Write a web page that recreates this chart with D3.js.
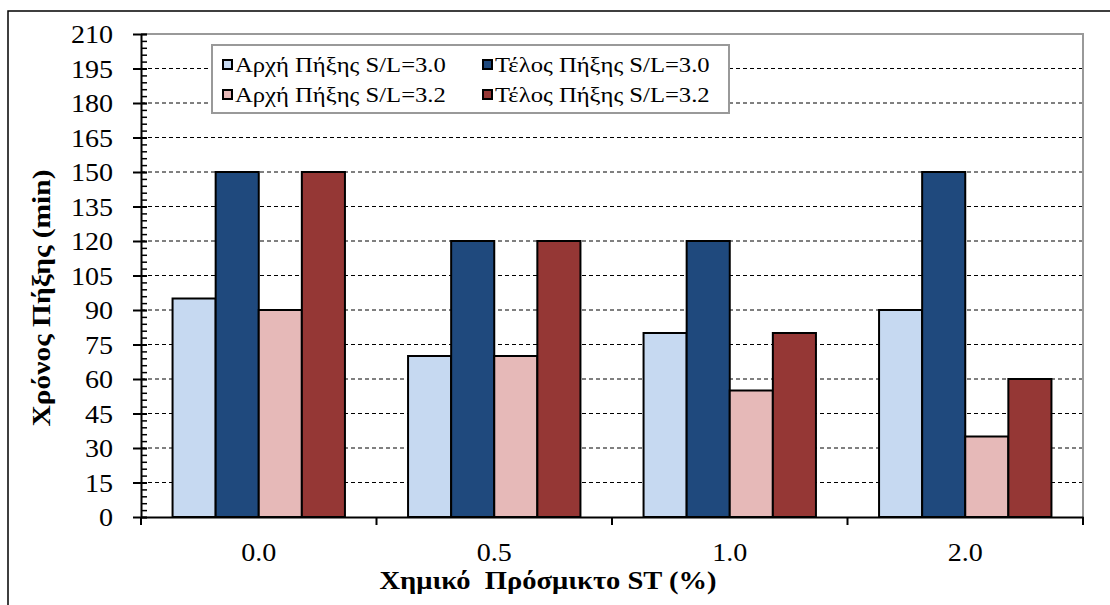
<!DOCTYPE html>
<html>
<head>
<meta charset="utf-8">
<script src="https://cdn.jsdelivr.net/npm/d3@7"></script>
<style>
  body { margin: 0; background: #fff; }
</style>
</head>
<body>
<svg width="1110" height="605"></svg>
<script>
// Data
var categories = ["0.0", "0.5", "1.0", "2.0"];
var seriesNames = ["Αρχή Πήξης S/L=3.0", "Τέλος Πήξης S/L=3.0", "Αρχή Πήξης S/L=3.2", "Τέλος Πήξης S/L=3.2"];
var start30 = [95, 70, 80, 90];
var end30 = [150, 120, 120, 150];
var start32 = [90, 70, 55, 35];
var end32 = [150, 120, 80, 60];
var yTicks = d3.range(0, 211, 15);
var colors = ["#C6D9F1", "#1F497D", "#E6B9B8", "#953735"];

var seriesValues = [start30, end30, start32, end32];

var serif = "'Liberation Serif'";
var svg = d3.select("svg"),
  pLeft = 141, pRight = 1083, pTop = 34, pBottom = 517;

// widen text a bit, like the original rendering
function stretch(sel, k) {
  sel.each(function() {
    var w = this.getComputedTextLength();
    d3.select(this).attr("textLength", w * k).attr("lengthAdjust", "spacingAndGlyphs");
  });
}

// outer frame
svg.append("rect")
  .attr("x", 8).attr("y", 11)
  .attr("width", 1110).attr("height", 610)
  .attr("fill", "none").attr("stroke", "#000").attr("stroke-width", 1.5);

var y = d3.scaleLinear().domain([0, 210]).range([pBottom, pTop]);
var x0 = d3.scaleBand().domain(categories).range([pLeft, pRight])
  .paddingInner(0.268).paddingOuter(0.134);
var x1 = d3.scaleBand().domain(d3.range(seriesNames.length)).range([0, x0.bandwidth()]);

// gridlines
svg.append("g")
  .selectAll("line")
  .data(yTicks.filter(function(d) { return d > 0 && d < 210; }))
  .enter().append("line")
    .attr("x1", pLeft).attr("x2", pRight)
    .attr("y1", function(d) { return y(d); })
    .attr("y2", function(d) { return y(d); })
    .attr("stroke", "#000").attr("stroke-width", 1)
    .attr("stroke-dasharray", "4,3");

// plot border (top and right, grey)
svg.append("path")
  .attr("d", "M" + pLeft + "," + pTop + "H" + pRight + "V" + pBottom)
  .attr("fill", "none").attr("stroke", "#999").attr("stroke-width", 2);

// bars
var groups = svg.append("g")
  .selectAll("g")
  .data(categories)
  .enter().append("g")
    .attr("transform", function(d) { return "translate(" + x0(d) + ",0)"; });

groups.selectAll("rect")
  .data(function(d, i) {
    return seriesValues.map(function(s, j) { return { s: j, v: s[i] }; });
  })
  .enter().append("rect")
    .attr("x", function(d) { return x1(d.s); })
    .attr("y", function(d) { return y(d.v); })
    .attr("width", x1.bandwidth())
    .attr("height", function(d) { return y(0) - y(d.v); })
    .attr("fill", function(d) { return colors[d.s]; })
    .attr("stroke", "#000").attr("stroke-width", 2);

// y axis: minor ticks
svg.append("g")
  .attr("transform", "translate(" + pLeft + ",0)")
  .call(d3.axisRight(y).tickValues(d3.range(0, 211, 3)).tickSize(6).tickFormat(""))
  .call(function(g) { g.select(".domain").remove(); })
  .selectAll("line").attr("stroke-width", 1.5);

// y axis: major ticks
var yAxis = svg.append("g")
  .attr("transform", "translate(" + pLeft + ",0)")
  .call(d3.axisLeft(y).tickValues(yTicks).tickSize(8).tickSizeOuter(0));
yAxis.select(".domain").attr("stroke-width", 2);
yAxis.selectAll(".tick line").attr("stroke-width", 2).attr("x2", 6).attr("x1", -8);
yAxis.selectAll("text")
  .style("font-family", serif)
  .style("font-size", "26px")
  .attr("fill", "#000")
  .attr("x", -28).attr("dy", "0.34em")
  .call(stretch, 1.08);

// x axis
var xAxis = svg.append("g")
  .attr("transform", "translate(0," + pBottom + ")")
  .call(d3.axisBottom(x0).tickSize(0).tickPadding(0));
xAxis.select(".domain").attr("stroke-width", 2);
xAxis.selectAll("text")
  .style("font-family", serif)
  .style("font-size", "26px")
  .attr("fill", "#000")
  .attr("y", 44).attr("dy", null)
  .call(stretch, 1.08);
svg.append("g")
  .selectAll("line")
  .data(d3.range(categories.length + 1))
  .enter().append("line")
    .attr("x1", function(i) { return pLeft + i * x0.step(); })
    .attr("x2", function(i) { return pLeft + i * x0.step(); })
    .attr("y1", pBottom).attr("y2", pBottom + 8)
    .attr("stroke", "#000").attr("stroke-width", 2);

// axis titles
svg.append("text")
  .attr("x", 548).attr("y", 589)
  .attr("text-anchor", "middle")
  .style("font-family", serif)
  .style("font-size", "26px").style("font-weight", "bold")
  .style("white-space", "pre")
  .attr("textLength", 337).attr("lengthAdjust", "spacingAndGlyphs")
  .text("Χημικό  Πρόσμικτο ST (%)");

svg.append("text")
  .attr("transform", "translate(50,298) rotate(-90)")
  .attr("text-anchor", "middle")
  .style("font-family", serif)
  .style("font-size", "26px").style("font-weight", "bold")
  .attr("textLength", 257).attr("lengthAdjust", "spacingAndGlyphs")
  .text("Χρόνος Πήξης (min)");

// legend
var legend = svg.append("g").attr("transform", "translate(212,45)");
legend.append("rect")
  .attr("width", 517).attr("height", 68)
  .attr("fill", "#fff").attr("stroke", "#999").attr("stroke-width", 2);

var entry = legend.selectAll("g.entry")
  .data(seriesNames)
  .enter().append("g")
    .attr("class", "entry")
    .attr("transform", function(d, i) {
      return "translate(" + (i % 2 === 0 ? 11 : 271) + "," + (i < 2 ? 19 : 49) + ")";
    });

entry.append("rect")
  .attr("x", 0).attr("y", -4)
  .attr("width", 9).attr("height", 9)
  .attr("fill", function(d, i) { return colors[i]; })
  .attr("stroke", "#000").attr("stroke-width", 2);

entry.append("text")
  .attr("x", 12).attr("y", 0).attr("dy", "0.35em")
  .style("font-family", serif)
  .style("font-size", "22px")
  .text(function(d) { return d; })
  .call(stretch, 1.12);
</script>
</body>
</html>
